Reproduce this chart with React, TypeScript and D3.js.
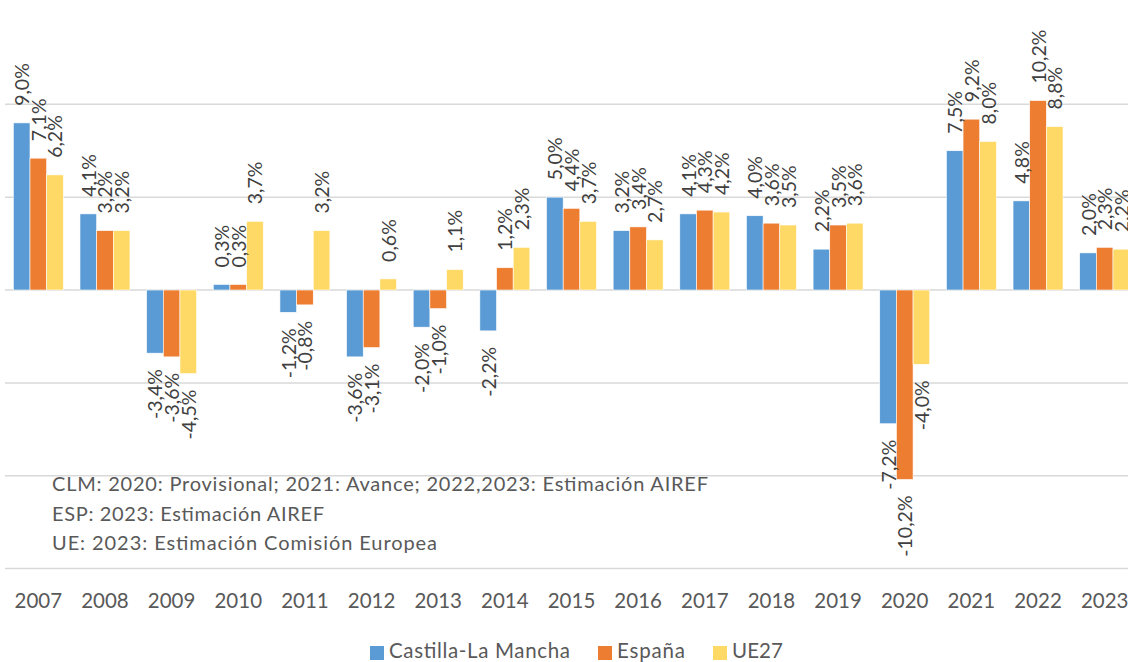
import React from "react";
import * as d3 from "d3";

const years = ["2007","2008","2009","2010","2011","2012","2013","2014","2015","2016","2017","2018","2019","2020","2021","2022","2023"];
const clm = [9.0, 4.1, -3.4, 0.3, -1.2, -3.6, -2.0, -2.2, 5.0, 3.2, 4.1, 4.0, 2.2, -7.2, 7.5, 4.8, 2.0];
const esp = [7.1, 3.2, -3.6, 0.3, -0.8, -3.1, -1.0, 1.2, 4.4, 3.4, 4.3, 3.6, 3.5, -10.2, 9.2, 10.2, 2.3];
const ue27 = [6.2, 3.2, -4.5, 3.7, 3.2, 0.6, 1.1, 2.3, 3.7, 2.7, 4.2, 3.5, 3.6, -4.0, 8.0, 8.8, 2.2];
const seriesNames = ["Castilla-La Mancha", "España", "UE27"];
const seriesColors = ["#5B9BD5", "#ED7D31", "#FFD966"];
const yTicks = [-15, -10, -5, 0, 5, 10];
const notes = [
  "CLM: 2020: Provisional; 2021: Avance; 2022,2023: Estimación AIREF",
  "ESP: 2023: Estimación AIREF",
  "UE: 2023: Estimación Comisión Europea",
];

const W = 1128;
const H = 662;
const FONT = "Lato, 'Open Sans', sans-serif";

export default function App() {
  const series = [clm, esp, ue27];
  const x = d3.scaleBand<string>().domain(years).range([5, 1138]).paddingInner(0.25).paddingOuter(0.125);
  const xs = d3.scaleBand<number>().domain([0, 1, 2]).range([0, x.bandwidth()]);
  const y = d3.scaleLinear().domain([-15, 10]).range([568.6, 104.3]);
  const fmt = (v: number) => v.toFixed(1).replace(".", ",") + "%";

  const noteLengths = [656, 272, 385];
  const legendItems = [
    { sx: 370, tx: 389, len: 181 },
    { sx: 598, tx: 617, len: 68 },
    { sx: 713, tx: 732, len: 51 },
  ];

  return (
    <svg width={W} height={H} style={{ position: "absolute", left: 0, top: 0, display: "block", background: "#fff" }} fontFamily={FONT}>
      {yTicks.map((t) => (
        <line key={t} x1={5} x2={W} y1={y(t)} y2={y(t)} stroke="#D9D9D9" strokeWidth={1.5} />
      ))}
      {series.map((vals, si) =>
        vals.map((v, i) => {
          const bx = (x(years[i]) as number) + (xs(si) as number);
          const y0 = y(0);
          const yv = y(v);
          return (
            <rect
              key={`b${si}-${i}`}
              x={bx}
              y={Math.min(y0, yv)}
              width={xs.bandwidth()}
              height={Math.abs(yv - y0)}
              fill={seriesColors[si]}
              stroke="#ffffff"
              strokeWidth={0.6}
            />
          );
        })
      )}
      {series.map((vals, si) =>
        vals.map((v, i) => {
          const cx = (x(years[i]) as number) + (xs(si) as number) + xs.bandwidth() / 2;
          const yv = y(v);
          const pos = v >= 0;
          const ly = pos ? yv - 17 : yv + 16;
          return (
            <text
              key={`l${si}-${i}`}
              transform={`translate(${cx},${ly}) rotate(-90)`}
              textAnchor={pos ? "start" : "end"}
              dominantBaseline="central"
              fontSize={19.5}
              fill="#404040"
            >
              {fmt(v)}
            </text>
          );
        })
      )}
      {years.map((yr) => (
        <text
          key={`x${yr}`}
          x={(x(yr) as number) + x.bandwidth() / 2}
          y={608}
          textAnchor="middle"
          fontSize={20.5}
          fill="#595959"
        >
          {yr}
        </text>
      ))}
      {notes.map((n, i) => (
        <text
          key={`n${i}`}
          x={52}
          y={491 + i * 29.5}
          fontSize={20}
          fill="#595959"
          textLength={noteLengths[i]}
          lengthAdjust="spacing"
        >
          {n}
        </text>
      ))}
      {seriesNames.map((name, i) => (
        <g key={`lg${i}`}>
          <rect x={legendItems[i].sx} y={646} width={14} height={14} fill={seriesColors[i]} />
          <text
            x={legendItems[i].tx}
            y={658}
            fontSize={20.5}
            fill="#595959"
            textLength={legendItems[i].len}
            lengthAdjust="spacing"
          >
            {name}
          </text>
        </g>
      ))}
    </svg>
  );
}
